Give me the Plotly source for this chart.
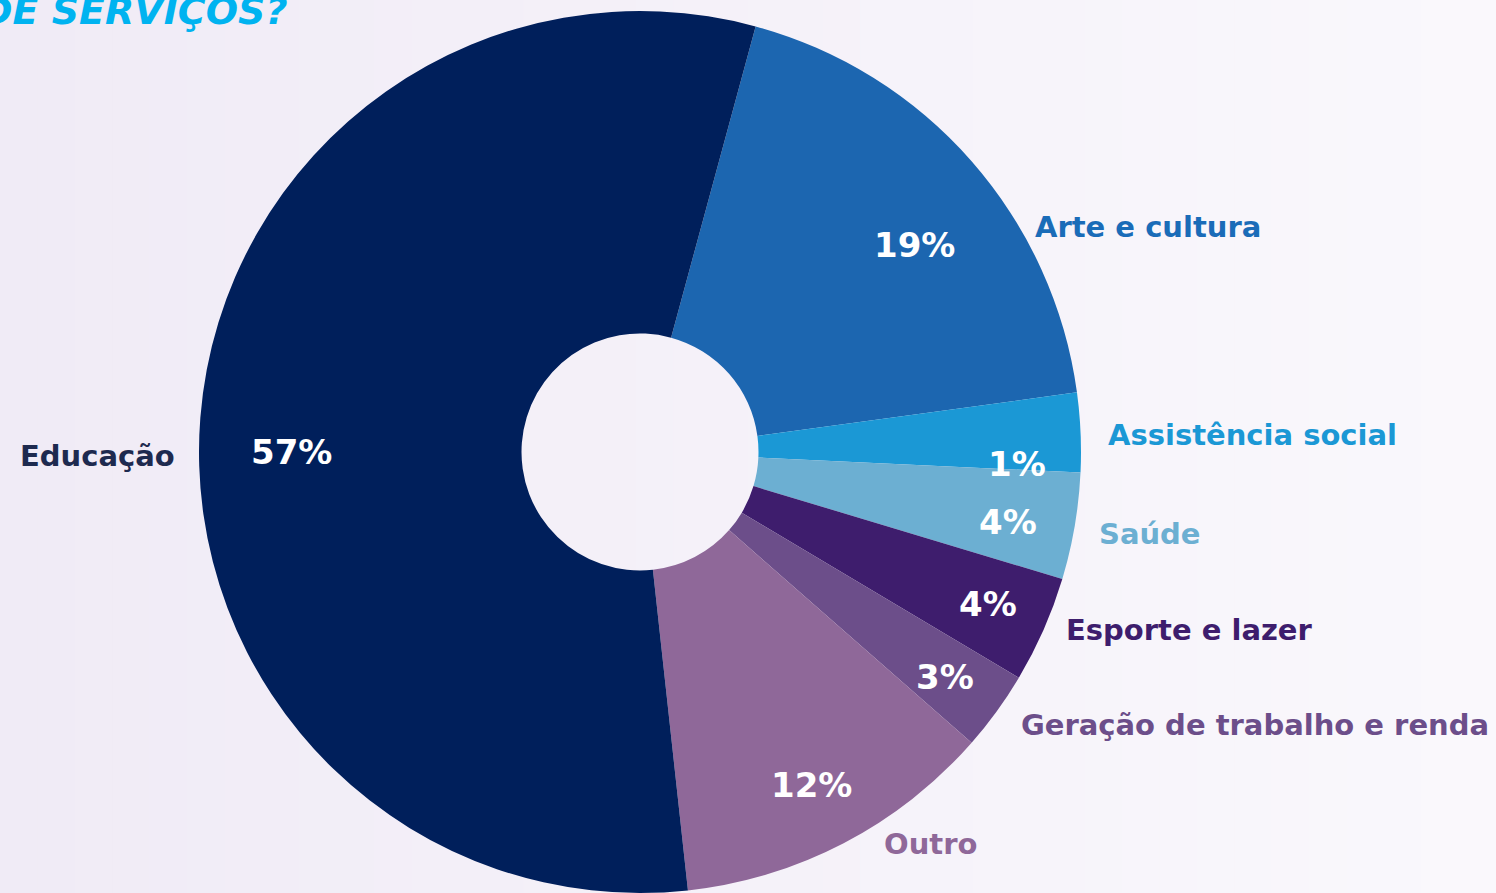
import math
import plotly.graph_objects as go

# slice order is clockwise starting just right of 12 o'clock
labels = ['Arte e cultura', 'Assistência social', 'Saúde', 'Esporte e lazer',
          'Geração de trabalho e renda', 'Outro', 'Educação']
values = [18.6, 2.9, 3.9, 3.9, 2.9, 11.8, 55.9]
pct_text = ['19%', '1%', '4%', '4%', '3%', '12%', '57%']

colors = ['#1c66b0', '#1b98d5', '#6cafd2', '#3e1d6d', '#6c4e8a', '#8f6899', '#001f5b']
label_colors = ['#1a6cb8', '#1b98d5', '#6cafd2', '#3e1d6d', '#6c4e8a', '#8f6899', '#1e2a4f']

W, H = 1496, 893
CX, CY, R = 640, 452, 441
ROTATION = 15.2

# (angle offset from slice middle, radius as fraction of R)
pct_pos = [(4.2, 0.78), (4.3, 0.855), (1.1, 0.85), (-0.2, 0.86), (0.35, 0.86), (0.3, 0.85), (-4.4, 0.79)]
lbl_pos = [(11.5, 1.027), (0.4, 1.057), (0.5, 1.053), (-0.95, 1.042), (-0.25, 1.058), (-4.2, 1.044), (-5.0, 1.05)]

FONT = 'DejaVu Sans'


def to_paper(angle, rfrac):
    a = math.radians(angle)
    px = CX + rfrac * R * math.sin(a)
    py = CY - rfrac * R * math.cos(a)
    return px / W, 1 - py / H


fig = go.Figure(go.Pie(
    labels=labels, values=values,
    marker=dict(colors=colors, line=dict(width=0)),
    sort=False, direction='clockwise', rotation=ROTATION,
    hole=118.5 / R, textinfo='none', showlegend=False,
    domain=dict(x=[(CX - R) / W, (CX + R) / W], y=[1 - (CY + R) / H, 1 - (CY - R) / H]),
))

# background gradient (lavender on the left, nearly white on the right)
n = 40
c0, c1 = (240, 235, 246), (250, 248, 252)
shapes = []
for i in range(n):
    t = i / (n - 1)
    c = tuple(round(c0[k] + (c1[k] - c0[k]) * t) for k in range(3))
    shapes.append(dict(type='rect', xref='paper', yref='paper', x0=i / n, x1=(i + 1) / n + 0.002,
                       y0=0, y1=1, layer='below', line=dict(width=0), fillcolor='rgb(%d,%d,%d)' % c))

annotations = []
total = sum(values)
start = ROTATION
for i, v in enumerate(values):
    span = 360 * v / total
    mid = start + span / 2
    start += span
    x, y = to_paper(mid + pct_pos[i][0], pct_pos[i][1])
    annotations.append(dict(x=x, y=y, xref='paper', yref='paper', text=pct_text[i], showarrow=False,
                            xanchor='center', yanchor='middle',
                            font=dict(family=FONT, size=34, color='white', weight='bold')))
    ang = mid + lbl_pos[i][0]
    x, y = to_paper(ang, lbl_pos[i][1])
    side = 'left' if (ang % 360) < 180 else 'right'
    annotations.append(dict(x=x, y=y, xref='paper', yref='paper', text=labels[i], showarrow=False,
                            xanchor=side, yanchor='middle',
                            font=dict(family=FONT, size=29, color=label_colors[i], weight='bold')))

# title remnant, cut by the top edge as in the source image
annotations.append(dict(x=-21 / W, y=1 - 11 / H, xref='paper', yref='paper', text='DE SERVIÇOS?',
                        showarrow=False, xanchor='left', yanchor='middle',
                        font=dict(family=FONT, size=38, color='#00b3f0', weight='bold', style='italic')))

fig.update_layout(width=W, height=H, margin=dict(l=0, r=0, t=0, b=0),
                  paper_bgcolor='#f5f2f9', plot_bgcolor='#f5f2f9',
                  shapes=shapes, annotations=annotations)
fig.write_html('out.html', config={'displayModeBar': False},
               post_script="document.body.style.margin='0';")
